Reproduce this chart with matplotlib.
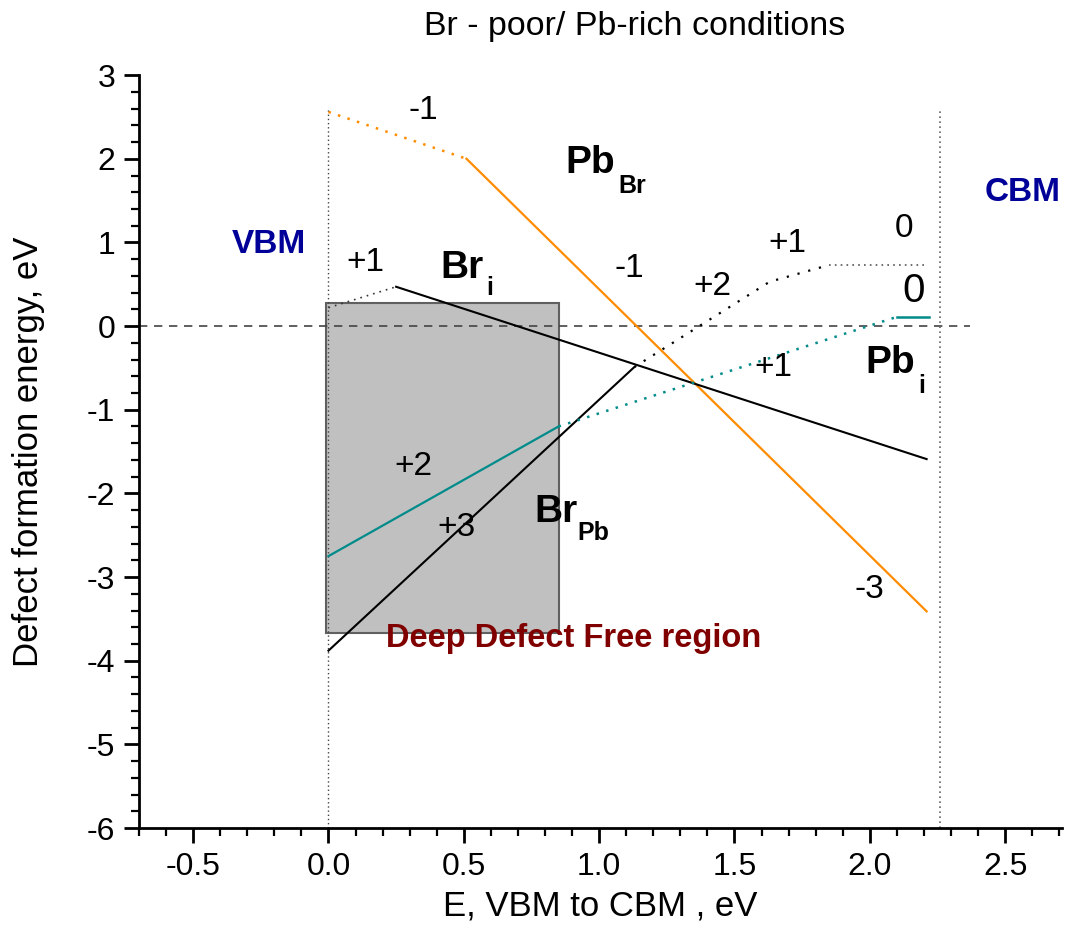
import matplotlib.pyplot as plt
from matplotlib.patches import Rectangle
from matplotlib.ticker import MultipleLocator, FormatStrFormatter

plt.rcParams['font.family'] = ['Liberation Sans', 'DejaVu Sans']
plt.rcParams['axes.unicode_minus'] = False

# Pb_Br (оранжевый)
pb_br_dot_x = [0.0, 0.51]
pb_br_dot_y = [2.56, 2.0]
pb_br_x = [0.51, 2.21]
pb_br_y = [2.0, -3.41]

# Br_i
br_i_dot_x = [0.0, 0.25]
br_i_dot_y = [0.22, 0.47]
br_i_x = [0.25, 2.21]
br_i_y = [0.47, -1.59]

# Br_Pb
br_pb_x = [0.0, 1.13]
br_pb_y = [-3.88, -0.49]
br_pb_dot_x = [1.13, 1.63, 1.85]
br_pb_dot_y = [-0.49, 0.53, 0.73]
br_pb_flat_x = [1.85, 2.21]
br_pb_flat_y = [0.73, 0.73]

# Pb_i (бирюзовый)
pb_i_x = [0.0, 0.85]
pb_i_y = [-2.75, -1.2]
pb_i_dot_x = [0.85, 2.1]
pb_i_dot_y = [-1.2, 0.11]
pb_i_end_x = [2.1, 2.22]
pb_i_end_y = [0.11, 0.11]

vbm, cbm = 0.0, 2.26
region_x = [-0.01, 0.85]
region_y = [-3.67, 0.27]

orange = '#ff8c00'
teal = '#008b8b'
blue = '#000099'
dred = '#800000'

fig = plt.figure(figsize=(10.66, 9.39), dpi=100)
ax = fig.add_axes([0.1304, 0.1182, 0.8658, 0.8018])

# серая область
ax.add_patch(Rectangle((region_x[0], region_y[0]), region_x[1] - region_x[0],
                       region_y[1] - region_y[0], facecolor='#c0c0c0',
                       edgecolor='#606060', lw=1.5, zorder=1))

# ноль и границы зон
ax.plot([-0.7, 2.37], [0, 0], color='#444444', lw=1.2, ls=(0, (5, 4)), zorder=2)
ax.plot([vbm, vbm], [-6, 2.6], color='#444444', lw=1.0, ls=(0, (1, 2)), zorder=2)
ax.plot([cbm, cbm], [-6, 2.57], color='#666666', lw=1.2, ls=(0, (1, 2)), zorder=2)

dot = (0, (1, 3))
ax.plot(pb_br_dot_x, pb_br_dot_y, color=orange, lw=1.8, ls=dot, zorder=3)
ax.plot(pb_br_x, pb_br_y, color=orange, lw=1.6, zorder=3)

ax.plot(br_i_dot_x, br_i_dot_y, color='#333333', lw=1.2, ls=dot, zorder=3)
ax.plot(br_i_x, br_i_y, color='black', lw=1.5, zorder=3)

ax.plot(br_pb_x, br_pb_y, color='black', lw=1.5, zorder=3)
ax.plot(br_pb_dot_x, br_pb_dot_y, color='black', lw=1.6, ls=(0, (1, 4)), zorder=3)
ax.plot(br_pb_flat_x, br_pb_flat_y, color='#555555', lw=1.2, ls=(0, (1, 2.5)), zorder=3)

ax.plot(pb_i_x, pb_i_y, color=teal, lw=1.6, zorder=3)
ax.plot(pb_i_dot_x, pb_i_dot_y, color=teal, lw=1.8, ls=dot, zorder=3)
ax.plot(pb_i_end_x, pb_i_end_y, color=teal, lw=1.8, zorder=3)

# подписи зарядов
charges = [(0.35, 2.58, '-1'), (0.135, 0.76, '+1'), (1.11, 0.69, '-1'),
           (1.417, 0.47, '+2'), (1.695, 0.99, '+1'), (2.126, 1.17, '0'),
           (1.643, -0.50, '+1'), (0.312, -1.68, '+2'), (0.472, -2.41, '+3'),
           (2.0, -3.15, '-3')]
for x, y, s in charges:
    ax.text(x, y, s, fontsize=24, ha='center', va='center', zorder=4)
ax.text(2.163, 0.42, '0', fontsize=29, ha='center', va='center', zorder=4)

# названия дефектов
def defect(x, y, main, sub, dx, dy):
    ax.text(x, y, main, fontsize=28, fontweight='bold', ha='center', va='center', zorder=4)
    ax.text(x + dx, y + dy, sub, fontsize=18, fontweight='bold', ha='center', va='center', zorder=4)

defect(0.968, 1.95, 'Pb', 'Br', 0.155, -0.27)
defect(0.495, 0.69, 'Br', 'i', 0.1, -0.24)
defect(0.84, -2.22, 'Br', 'Pb', 0.14, -0.25)
defect(2.075, -0.44, 'Pb', 'i', 0.115, -0.28)

ax.text(-0.22, 0.97, 'VBM', fontsize=24, fontweight='bold', color=blue, ha='center', va='center')
ax.text(2.565, 1.6, 'CBM', fontsize=24, fontweight='bold', color=blue, ha='center', va='center')
ax.text(0.907, -3.73, 'Deep Defect Free region', fontsize=23.5, fontweight='bold',
        color=dred, ha='center', va='center', zorder=4)

ax.set_xlim(-0.7, 2.71)
ax.set_ylim(-6, 3)
ax.xaxis.set_major_locator(MultipleLocator(0.5))
ax.xaxis.set_minor_locator(MultipleLocator(0.1))
ax.xaxis.set_major_formatter(FormatStrFormatter('%.1f'))
ax.yaxis.set_major_locator(MultipleLocator(1))
ax.yaxis.set_minor_locator(MultipleLocator(0.2))

for s in ['top', 'right']:
    ax.spines[s].set_visible(False)
for s in ['left', 'bottom']:
    ax.spines[s].set_linewidth(2)
ax.tick_params(which='major', direction='out', length=11, width=2, labelsize=23, pad=6)
ax.tick_params(which='minor', direction='out', length=6, width=1.6)

ax.set_xlabel('E, VBM to CBM , eV', fontsize=25, labelpad=6)
ax.set_ylabel('Defect formation energy, eV', fontsize=25, labelpad=30)
fig.text(0.595, 0.972, 'Br - poor/ Pb-rich conditions', fontsize=24.5, ha='center', va='center')

fig.savefig('out.png', dpi=100)
